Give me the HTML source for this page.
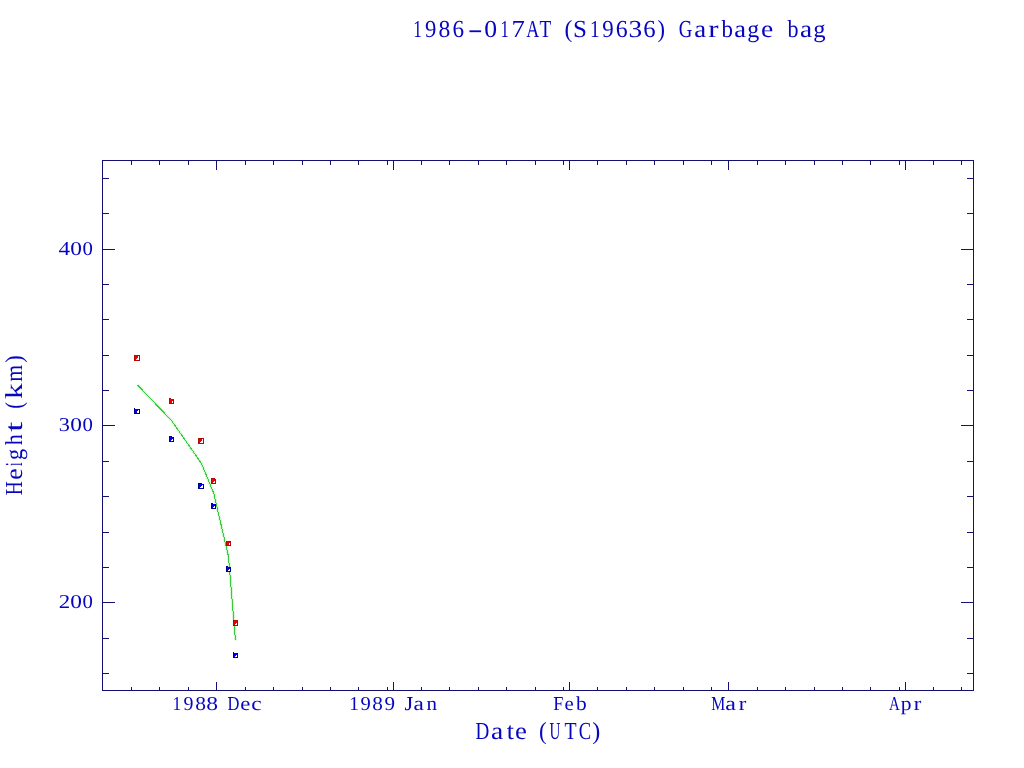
<!DOCTYPE html>
<html><head><meta charset="utf-8"><style>
html,body{margin:0;padding:0;background:#fff;}
svg{display:block;will-change:transform;}
text{font-family:"Liberation Serif",serif;}
</style></head><body>
<svg width="1024" height="768" viewBox="0 0 1024 768" shape-rendering="crispEdges" text-rendering="geometricPrecision">
<rect width="1024" height="768" fill="#fff"/>
<rect x="102" y="160" width="872" height="1" fill="#141070"/>
<rect x="102" y="690" width="872" height="1" fill="#141070"/>
<rect x="102" y="160" width="1" height="531" fill="#141070"/>
<rect x="973" y="160" width="1" height="531" fill="#141070"/>
<rect x="102" y="673" width="7" height="1" fill="#141070"/>
<rect x="967" y="673" width="7" height="1" fill="#141070"/>
<rect x="102" y="638" width="7" height="1" fill="#141070"/>
<rect x="967" y="638" width="7" height="1" fill="#141070"/>
<rect x="102" y="602" width="13" height="1" fill="#141070"/>
<rect x="961" y="602" width="13" height="1" fill="#141070"/>
<rect x="102" y="567" width="7" height="1" fill="#141070"/>
<rect x="967" y="567" width="7" height="1" fill="#141070"/>
<rect x="102" y="532" width="7" height="1" fill="#141070"/>
<rect x="967" y="532" width="7" height="1" fill="#141070"/>
<rect x="102" y="496" width="7" height="1" fill="#141070"/>
<rect x="967" y="496" width="7" height="1" fill="#141070"/>
<rect x="102" y="461" width="7" height="1" fill="#141070"/>
<rect x="967" y="461" width="7" height="1" fill="#141070"/>
<rect x="102" y="425" width="13" height="1" fill="#141070"/>
<rect x="961" y="425" width="13" height="1" fill="#141070"/>
<rect x="102" y="390" width="7" height="1" fill="#141070"/>
<rect x="967" y="390" width="7" height="1" fill="#141070"/>
<rect x="102" y="355" width="7" height="1" fill="#141070"/>
<rect x="967" y="355" width="7" height="1" fill="#141070"/>
<rect x="102" y="319" width="7" height="1" fill="#141070"/>
<rect x="967" y="319" width="7" height="1" fill="#141070"/>
<rect x="102" y="284" width="7" height="1" fill="#141070"/>
<rect x="967" y="284" width="7" height="1" fill="#141070"/>
<rect x="102" y="249" width="13" height="1" fill="#141070"/>
<rect x="961" y="249" width="13" height="1" fill="#141070"/>
<rect x="102" y="213" width="7" height="1" fill="#141070"/>
<rect x="967" y="213" width="7" height="1" fill="#141070"/>
<rect x="102" y="178" width="7" height="1" fill="#141070"/>
<rect x="967" y="178" width="7" height="1" fill="#141070"/>
<rect x="131" y="687" width="1" height="4" fill="#141070"/>
<rect x="131" y="160" width="1" height="5" fill="#141070"/>
<rect x="159" y="687" width="1" height="4" fill="#141070"/>
<rect x="159" y="160" width="1" height="5" fill="#141070"/>
<rect x="188" y="687" width="1" height="4" fill="#141070"/>
<rect x="188" y="160" width="1" height="5" fill="#141070"/>
<rect x="216" y="682" width="1" height="9" fill="#141070"/>
<rect x="216" y="160" width="1" height="10" fill="#141070"/>
<rect x="245" y="687" width="1" height="4" fill="#141070"/>
<rect x="245" y="160" width="1" height="5" fill="#141070"/>
<rect x="273" y="687" width="1" height="4" fill="#141070"/>
<rect x="273" y="160" width="1" height="5" fill="#141070"/>
<rect x="302" y="687" width="1" height="4" fill="#141070"/>
<rect x="302" y="160" width="1" height="5" fill="#141070"/>
<rect x="330" y="687" width="1" height="4" fill="#141070"/>
<rect x="330" y="160" width="1" height="5" fill="#141070"/>
<rect x="358" y="687" width="1" height="4" fill="#141070"/>
<rect x="358" y="160" width="1" height="5" fill="#141070"/>
<rect x="387" y="687" width="1" height="4" fill="#141070"/>
<rect x="387" y="160" width="1" height="5" fill="#141070"/>
<rect x="393" y="682" width="1" height="9" fill="#141070"/>
<rect x="393" y="160" width="1" height="10" fill="#141070"/>
<rect x="421" y="687" width="1" height="4" fill="#141070"/>
<rect x="421" y="160" width="1" height="5" fill="#141070"/>
<rect x="449" y="687" width="1" height="4" fill="#141070"/>
<rect x="449" y="160" width="1" height="5" fill="#141070"/>
<rect x="478" y="687" width="1" height="4" fill="#141070"/>
<rect x="478" y="160" width="1" height="5" fill="#141070"/>
<rect x="506" y="687" width="1" height="4" fill="#141070"/>
<rect x="506" y="160" width="1" height="5" fill="#141070"/>
<rect x="535" y="687" width="1" height="4" fill="#141070"/>
<rect x="535" y="160" width="1" height="5" fill="#141070"/>
<rect x="563" y="687" width="1" height="4" fill="#141070"/>
<rect x="563" y="160" width="1" height="5" fill="#141070"/>
<rect x="569" y="682" width="1" height="9" fill="#141070"/>
<rect x="569" y="160" width="1" height="10" fill="#141070"/>
<rect x="597" y="687" width="1" height="4" fill="#141070"/>
<rect x="597" y="160" width="1" height="5" fill="#141070"/>
<rect x="626" y="687" width="1" height="4" fill="#141070"/>
<rect x="626" y="160" width="1" height="5" fill="#141070"/>
<rect x="654" y="687" width="1" height="4" fill="#141070"/>
<rect x="654" y="160" width="1" height="5" fill="#141070"/>
<rect x="683" y="687" width="1" height="4" fill="#141070"/>
<rect x="683" y="160" width="1" height="5" fill="#141070"/>
<rect x="711" y="687" width="1" height="4" fill="#141070"/>
<rect x="711" y="160" width="1" height="5" fill="#141070"/>
<rect x="728" y="682" width="1" height="9" fill="#141070"/>
<rect x="728" y="160" width="1" height="10" fill="#141070"/>
<rect x="757" y="687" width="1" height="4" fill="#141070"/>
<rect x="757" y="160" width="1" height="5" fill="#141070"/>
<rect x="785" y="687" width="1" height="4" fill="#141070"/>
<rect x="785" y="160" width="1" height="5" fill="#141070"/>
<rect x="814" y="687" width="1" height="4" fill="#141070"/>
<rect x="814" y="160" width="1" height="5" fill="#141070"/>
<rect x="842" y="687" width="1" height="4" fill="#141070"/>
<rect x="842" y="160" width="1" height="5" fill="#141070"/>
<rect x="870" y="687" width="1" height="4" fill="#141070"/>
<rect x="870" y="160" width="1" height="5" fill="#141070"/>
<rect x="899" y="687" width="1" height="4" fill="#141070"/>
<rect x="899" y="160" width="1" height="5" fill="#141070"/>
<rect x="905" y="682" width="1" height="9" fill="#141070"/>
<rect x="905" y="160" width="1" height="10" fill="#141070"/>
<rect x="933" y="687" width="1" height="4" fill="#141070"/>
<rect x="933" y="160" width="1" height="5" fill="#141070"/>
<rect x="961" y="687" width="1" height="4" fill="#141070"/>
<rect x="961" y="160" width="1" height="5" fill="#141070"/>
<text x="0" y="0" transform="translate(413.18,37) scale(0.710,1)" fill="#0606c0" font-size="24.4">1</text>
<text x="0" y="0" transform="translate(425.07,37) scale(0.932,1)" fill="#0606c0" font-size="24.4">9</text>
<text x="0" y="0" transform="translate(438.40,37) scale(0.967,1)" fill="#0606c0" font-size="24.4">8</text>
<text x="0" y="0" transform="translate(452.40,37) scale(0.950,1)" fill="#0606c0" font-size="24.4">6</text>
<text x="0" y="0" transform="translate(467.63,37) scale(1.846,1)" fill="#0606c0" font-size="24.4">-</text>
<text x="0" y="0" transform="translate(484.22,37) scale(1.054,1)" fill="#0606c0" font-size="24.4">0</text>
<text x="0" y="0" transform="translate(500.53,37) scale(0.687,1)" fill="#0606c0" font-size="24.4">1</text>
<text x="0" y="0" transform="translate(511.44,37) scale(1.092,1)" fill="#0606c0" font-size="24.4">7</text>
<text x="0" y="0" transform="translate(526.22,37) scale(0.738,1)" fill="#0606c0" font-size="24.4">A</text>
<text x="0" y="0" transform="translate(539.55,37) scale(0.790,1)" fill="#0606c0" font-size="24.4">T</text>
<text x="0" y="0" transform="translate(564.56,37) scale(0.973,1)" fill="#0606c0" font-size="24.4">(</text>
<text x="0" y="0" transform="translate(573.02,37) scale(1.026,1)" fill="#0606c0" font-size="24.4">S</text>
<text x="0" y="0" transform="translate(590.10,37) scale(0.792,1)" fill="#0606c0" font-size="24.4">1</text>
<text x="0" y="0" transform="translate(602.26,37) scale(0.941,1)" fill="#0606c0" font-size="24.4">9</text>
<text x="0" y="0" transform="translate(615.67,37) scale(0.978,1)" fill="#0606c0" font-size="24.4">6</text>
<text x="0" y="0" transform="translate(628.49,37) scale(1.121,1)" fill="#0606c0" font-size="24.4">3</text>
<text x="0" y="0" transform="translate(643.13,37) scale(1.017,1)" fill="#0606c0" font-size="24.4">6</text>
<text x="0" y="0" transform="translate(657.57,37) scale(0.926,1)" fill="#0606c0" font-size="24.4">)</text>
<text x="0" y="0" transform="translate(678.63,37) scale(0.769,1)" fill="#0606c0" font-size="24.4">G</text>
<text x="0" y="0" transform="translate(694.26,37) scale(1.100,1)" fill="#0606c0" font-size="24.4">a</text>
<text x="0" y="0" transform="translate(708.28,37) scale(1.266,1)" fill="#0606c0" font-size="24.4">r</text>
<text x="0" y="0" transform="translate(721.40,37) scale(0.940,1)" fill="#0606c0" font-size="24.4">b</text>
<text x="0" y="0" transform="translate(734.17,37) scale(1.089,1)" fill="#0606c0" font-size="24.4">a</text>
<text x="0" y="0" transform="translate(747.37,37) scale(0.983,1)" fill="#0606c0" font-size="24.4">g</text>
<text x="0" y="0" transform="translate(760.92,37) scale(1.129,1)" fill="#0606c0" font-size="24.4">e</text>
<text x="0" y="0" transform="translate(787.40,37) scale(0.905,1)" fill="#0606c0" font-size="24.4">b</text>
<text x="0" y="0" transform="translate(800.04,37) scale(1.121,1)" fill="#0606c0" font-size="24.4">a</text>
<text x="0" y="0" transform="translate(813.14,37) scale(1.011,1)" fill="#0606c0" font-size="24.4">g</text>
<text x="0" y="0" transform="translate(475.45,739) scale(0.784,1)" fill="#0606c0" font-size="24.4">D</text>
<text x="0" y="0" transform="translate(490.93,739) scale(1.131,1)" fill="#0606c0" font-size="24.4">a</text>
<text x="0" y="0" transform="translate(506.65,739) scale(1.063,1)" fill="#0606c0" font-size="24.4">t</text>
<text x="0" y="0" transform="translate(515.06,739) scale(1.096,1)" fill="#0606c0" font-size="24.4">e</text>
<text x="0" y="0" transform="translate(538.89,739) scale(0.941,1)" fill="#0606c0" font-size="24.4">(</text>
<text x="0" y="0" transform="translate(549.49,739) scale(0.615,1)" fill="#0606c0" font-size="24.4">U</text>
<text x="0" y="0" transform="translate(564.44,739) scale(0.811,1)" fill="#0606c0" font-size="24.4">T</text>
<text x="0" y="0" transform="translate(578.74,739) scale(0.761,1)" fill="#0606c0" font-size="24.4">C</text>
<text x="0" y="0" transform="translate(592.22,739) scale(0.989,1)" fill="#0606c0" font-size="24.4">)</text>
<text x="0" y="0" transform="translate(22,494.70) rotate(-90) scale(0.796,1) translate(-0.70,0)" fill="#0606c0" font-size="24.4">H</text>
<text x="0" y="0" transform="translate(22,478.70) rotate(-90) scale(1.041,1) translate(-0.95,0)" fill="#0606c0" font-size="24.4">e</text>
<text x="0" y="0" transform="translate(22,465.80) rotate(-90) scale(0.534,1) translate(-0.51,0)" fill="#0606c0" font-size="24.4">i</text>
<text x="0" y="0" transform="translate(22,459.10) rotate(-90) scale(0.908,1) translate(-1.05,0)" fill="#0606c0" font-size="24.4">g</text>
<text x="0" y="0" transform="translate(22,445.00) rotate(-90) scale(0.893,1) translate(-0.24,0)" fill="#0606c0" font-size="24.4">h</text>
<text x="0" y="0" transform="translate(22,431.50) rotate(-90) scale(1.469,1) translate(-0.24,0)" fill="#0606c0" font-size="24.4">t</text>
<text x="0" y="0" transform="translate(22,407.80) rotate(-90) scale(0.830,1) translate(-1.07,0)" fill="#0606c0" font-size="24.4">(</text>
<text x="0" y="0" transform="translate(22,398.40) rotate(-90) scale(1.287,1) translate(-0.46,0)" fill="#0606c0" font-size="24.4">k</text>
<text x="0" y="0" transform="translate(22,381.25) rotate(-90) scale(0.893,1) translate(-0.51,0)" fill="#0606c0" font-size="24.4">m</text>
<text x="0" y="0" transform="translate(22,362.00) rotate(-90) scale(0.918,1) translate(-0.79,0)" fill="#0606c0" font-size="24.4">)</text>
<text x="0" y="0" transform="translate(58.45,255) scale(1.179,1)" fill="#0606c0" font-size="19.7">4</text>
<text x="0" y="0" transform="translate(70.31,255) scale(1.186,1)" fill="#0606c0" font-size="19.7">0</text>
<text x="0" y="0" transform="translate(82.41,255) scale(1.054,1)" fill="#0606c0" font-size="19.7">0</text>
<text x="0" y="0" transform="translate(58.73,431) scale(1.131,1)" fill="#0606c0" font-size="19.7">3</text>
<text x="0" y="0" transform="translate(70.31,431) scale(1.186,1)" fill="#0606c0" font-size="19.7">0</text>
<text x="0" y="0" transform="translate(82.41,431) scale(1.054,1)" fill="#0606c0" font-size="19.7">0</text>
<text x="0" y="0" transform="translate(58.79,608) scale(1.165,1)" fill="#0606c0" font-size="19.7">2</text>
<text x="0" y="0" transform="translate(70.31,608) scale(1.186,1)" fill="#0606c0" font-size="19.7">0</text>
<text x="0" y="0" transform="translate(82.41,608) scale(1.054,1)" fill="#0606c0" font-size="19.7">0</text>
<text x="0" y="0" transform="translate(172.38,710) scale(0.880,1)" fill="#0606c0" font-size="19.7">1</text>
<text x="0" y="0" transform="translate(183.56,710) scale(1.011,1)" fill="#0606c0" font-size="19.7">9</text>
<text x="0" y="0" transform="translate(195.28,710) scale(1.090,1)" fill="#0606c0" font-size="19.7">8</text>
<text x="0" y="0" transform="translate(206.20,710) scale(1.198,1)" fill="#0606c0" font-size="19.7">8</text>
<text x="0" y="0" transform="translate(227.52,710) scale(0.839,1)" fill="#0606c0" font-size="19.7">D</text>
<text x="0" y="0" transform="translate(240.21,710) scale(1.152,1)" fill="#0606c0" font-size="19.7">e</text>
<text x="0" y="0" transform="translate(251.21,710) scale(1.191,1)" fill="#0606c0" font-size="19.7">c</text>
<text x="0" y="0" transform="translate(349.20,710) scale(0.980,1)" fill="#0606c0" font-size="19.7">1</text>
<text x="0" y="0" transform="translate(360.44,710) scale(1.047,1)" fill="#0606c0" font-size="19.7">9</text>
<text x="0" y="0" transform="translate(372.29,710) scale(1.078,1)" fill="#0606c0" font-size="19.7">8</text>
<text x="0" y="0" transform="translate(384.42,710) scale(1.071,1)" fill="#0606c0" font-size="19.7">9</text>
<text x="0" y="0" transform="translate(404.53,710) scale(1.140,1)" fill="#0606c0" font-size="19.7">J</text>
<text x="0" y="0" transform="translate(413.48,710) scale(1.182,1)" fill="#0606c0" font-size="19.7">a</text>
<text x="0" y="0" transform="translate(426.52,710) scale(1.066,1)" fill="#0606c0" font-size="19.7">n</text>
<text x="0" y="0" transform="translate(553.27,710) scale(0.930,1)" fill="#0606c0" font-size="19.7">F</text>
<text x="0" y="0" transform="translate(564.39,710) scale(1.056,1)" fill="#0606c0" font-size="19.7">e</text>
<text x="0" y="0" transform="translate(576.10,710) scale(1.088,1)" fill="#0606c0" font-size="19.7">b</text>
<text x="0" y="0" transform="translate(711.35,710) scale(0.800,1)" fill="#0606c0" font-size="19.7">M</text>
<text x="0" y="0" transform="translate(725.35,710) scale(1.221,1)" fill="#0606c0" font-size="19.7">a</text>
<text x="0" y="0" transform="translate(738.65,710) scale(1.151,1)" fill="#0606c0" font-size="19.7">r</text>
<text x="0" y="0" transform="translate(889.05,710) scale(0.756,1)" fill="#0606c0" font-size="19.7">A</text>
<text x="0" y="0" transform="translate(900.65,710) scale(1.096,1)" fill="#0606c0" font-size="19.7">p</text>
<text x="0" y="0" transform="translate(913.65,710) scale(1.151,1)" fill="#0606c0" font-size="19.7">r</text>
<path d="M137.5 385.0 L171.5 420.5 L201.5 463.5 L213.8 493.5 L228.5 556.5 L235.5 640.5" fill="none" stroke="#d6f6d6" stroke-width="3" shape-rendering="auto"/>
<path d="M137.5 385.0 L171.5 420.5 L201.5 463.5 L213.8 493.5 L228.5 556.5 L235.5 640.5" fill="none" stroke="#3cc83c" stroke-width="1"/>
<rect x="134" y="355" width="6" height="1" fill="#b40808"/>
<rect x="134" y="356" width="6" height="5" fill="#b40808"/>
<rect x="135" y="356" width="4" height="4" fill="#f00000"/>
<rect x="138" y="356" width="1" height="1" fill="#fff"/>
<rect x="138" y="357" width="1" height="1" fill="#fff"/>
<rect x="137" y="358" width="1" height="1" fill="#fff"/>
<rect x="138" y="358" width="1" height="1" fill="#fff"/>
<rect x="136" y="359" width="1" height="1" fill="#fff"/>
<rect x="137" y="359" width="1" height="1" fill="#fff"/>
<rect x="138" y="359" width="1" height="1" fill="#fff"/>
<rect x="134" y="408" width="1" height="1" fill="#000090"/>
<rect x="134" y="409" width="6" height="5" fill="#000090"/>
<rect x="135" y="409" width="4" height="4" fill="#0000f0"/>
<rect x="138" y="410" width="1" height="1" fill="#fff"/>
<rect x="137" y="411" width="1" height="1" fill="#fff"/>
<rect x="138" y="411" width="1" height="1" fill="#fff"/>
<rect x="137" y="412" width="1" height="1" fill="#fff"/>
<rect x="138" y="412" width="1" height="1" fill="#fff"/>
<rect x="169" y="398" width="2" height="1" fill="#b40808"/>
<rect x="169" y="399" width="5" height="5" fill="#b40808"/>
<rect x="170" y="399" width="3" height="4" fill="#f00000"/>
<rect x="172" y="401" width="1" height="1" fill="#fff"/>
<rect x="172" y="402" width="1" height="1" fill="#fff"/>
<rect x="169" y="436" width="3" height="1" fill="#000090"/>
<rect x="169" y="437" width="5" height="5" fill="#000090"/>
<rect x="170" y="437" width="3" height="4" fill="#0000f0"/>
<rect x="172" y="439" width="1" height="1" fill="#fff"/>
<rect x="171" y="440" width="1" height="1" fill="#fff"/>
<rect x="172" y="440" width="1" height="1" fill="#fff"/>
<rect x="198" y="438" width="6" height="1" fill="#b40808"/>
<rect x="198" y="439" width="6" height="5" fill="#b40808"/>
<rect x="199" y="439" width="4" height="4" fill="#f00000"/>
<rect x="202" y="439" width="1" height="1" fill="#fff"/>
<rect x="202" y="440" width="1" height="1" fill="#fff"/>
<rect x="201" y="441" width="1" height="1" fill="#fff"/>
<rect x="202" y="441" width="1" height="1" fill="#fff"/>
<rect x="200" y="442" width="1" height="1" fill="#fff"/>
<rect x="201" y="442" width="1" height="1" fill="#fff"/>
<rect x="202" y="442" width="1" height="1" fill="#fff"/>
<rect x="198" y="483" width="4" height="1" fill="#000090"/>
<rect x="198" y="484" width="6" height="5" fill="#000090"/>
<rect x="199" y="484" width="4" height="4" fill="#0000f0"/>
<rect x="202" y="485" width="1" height="1" fill="#fff"/>
<rect x="201" y="486" width="1" height="1" fill="#fff"/>
<rect x="202" y="486" width="1" height="1" fill="#fff"/>
<rect x="200" y="487" width="1" height="1" fill="#fff"/>
<rect x="201" y="487" width="1" height="1" fill="#fff"/>
<rect x="202" y="487" width="1" height="1" fill="#fff"/>
<rect x="211" y="478" width="4" height="1" fill="#b40808"/>
<rect x="211" y="479" width="5" height="5" fill="#b40808"/>
<rect x="212" y="479" width="3" height="4" fill="#f00000"/>
<rect x="214" y="481" width="1" height="1" fill="#fff"/>
<rect x="213" y="482" width="1" height="1" fill="#fff"/>
<rect x="214" y="482" width="1" height="1" fill="#fff"/>
<rect x="211" y="503" width="2" height="1" fill="#000090"/>
<rect x="211" y="504" width="5" height="5" fill="#000090"/>
<rect x="212" y="504" width="3" height="4" fill="#0000f0"/>
<rect x="214" y="506" width="1" height="1" fill="#fff"/>
<rect x="213" y="507" width="1" height="1" fill="#fff"/>
<rect x="214" y="507" width="1" height="1" fill="#fff"/>
<rect x="226" y="541" width="5" height="1" fill="#b40808"/>
<rect x="226" y="542" width="5" height="4" fill="#b40808"/>
<rect x="227" y="542" width="3" height="3" fill="#f00000"/>
<rect x="229" y="543" width="1" height="1" fill="#fff"/>
<rect x="229" y="544" width="1" height="1" fill="#fff"/>
<rect x="226" y="566" width="2" height="1" fill="#000090"/>
<rect x="226" y="567" width="5" height="5" fill="#000090"/>
<rect x="227" y="567" width="3" height="4" fill="#0000f0"/>
<rect x="229" y="569" width="1" height="1" fill="#fff"/>
<rect x="228" y="570" width="1" height="1" fill="#fff"/>
<rect x="229" y="570" width="1" height="1" fill="#fff"/>
<rect x="233" y="620" width="5" height="1" fill="#b40808"/>
<rect x="233" y="621" width="5" height="5" fill="#b40808"/>
<rect x="234" y="621" width="3" height="4" fill="#f00000"/>
<rect x="236" y="623" width="1" height="1" fill="#fff"/>
<rect x="235" y="624" width="1" height="1" fill="#fff"/>
<rect x="236" y="624" width="1" height="1" fill="#fff"/>
<rect x="233" y="652" width="1" height="1" fill="#000090"/>
<rect x="233" y="653" width="5" height="5" fill="#000090"/>
<rect x="234" y="653" width="3" height="4" fill="#0000f0"/>
<rect x="236" y="655" width="1" height="1" fill="#fff"/>
<rect x="235" y="656" width="1" height="1" fill="#fff"/>
<rect x="236" y="656" width="1" height="1" fill="#fff"/>
</svg>
</body></html>
